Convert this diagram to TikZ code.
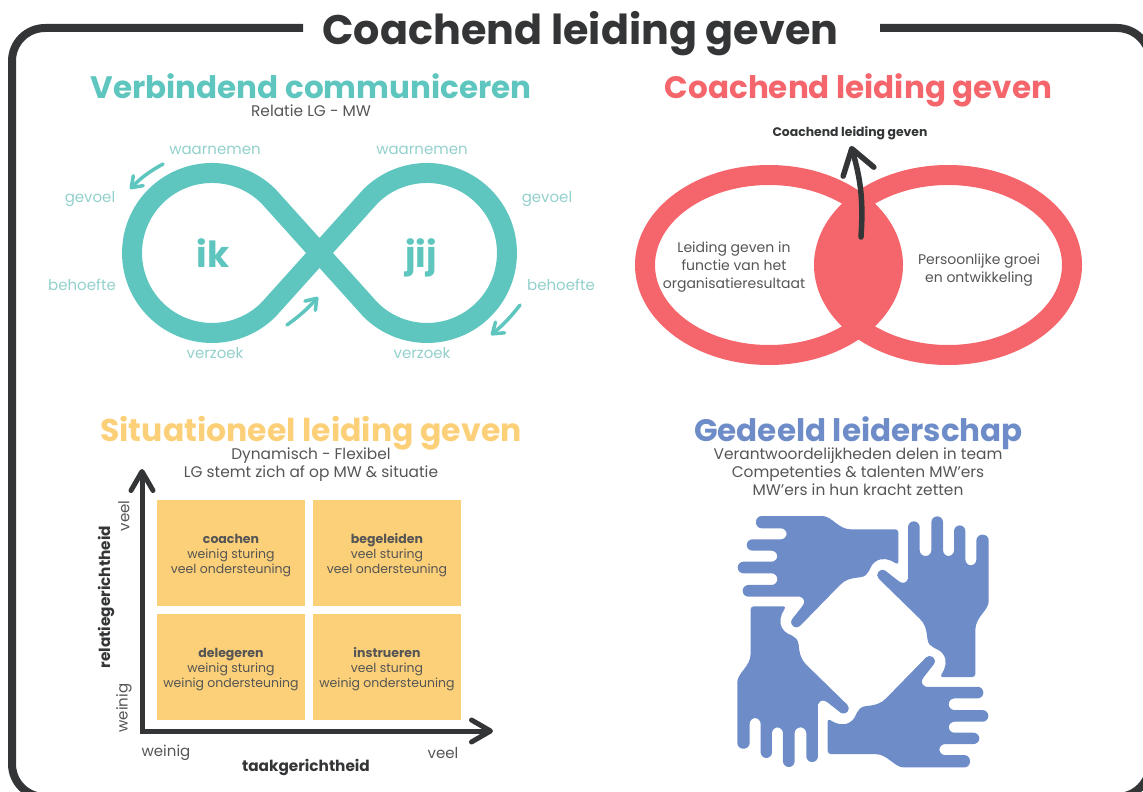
\documentclass[tikz,border=0pt]{standalone}
\usepackage{fontspec}
\setmainfont{Poppins}
\usetikzlibrary{arrows.meta}
\definecolor{frameDark}{HTML}{333536}
\definecolor{tealInk}{HTML}{5EC6BE}
\definecolor{tealLabel}{HTML}{93D0CC}
\definecolor{coralInk}{HTML}{F5666C}
\definecolor{sandInk}{HTML}{FCD078}
\definecolor{blueInk}{HTML}{6D8CC8}
\definecolor{bodyGrey}{HTML}{555555}
\newcommand{\px}[1]{\fontsize{#1}{18pt}\selectfont}
\newcommand{\qhead}[1]{\rule{0pt}{14pt}\textbf{#1}}
\newcommand{\handpath}{(300,48) [rounded corners=5.8pt] -- (350,48) .. controls (395,48) and (415,88) .. (470,88)
 [rounded corners=3pt] -- (595,88) -- (595,195) [sharp corners] .. controls (570,178) and (545,170) .. (525,186)
 .. controls (505,200) and (512,228) .. (480,232) .. controls (450,235) and (435,240) .. (420,255)
 -- (300,378) .. controls (288,390) and (266,376) .. (276,358) -- (306,320)
 .. controls (316,308) and (315,295) .. (300,290) [rounded corners=5.8pt] -- (128,290) -- (128,255) -- (232,255) -- (232,220)
 -- (113,220) -- (113,185) -- (232,185) -- (232,152) -- (140,152) -- (140,118)
 -- (260,118) -- (260,85) -- (168,85) -- (168,48) -- cycle}
\tikzset{
 heading/.style={font=\bfseries\px{#1},anchor=base,inner sep=0pt},
 sublabel/.style={font=\px{15.4},text=bodyGrey,align=center,inner sep=0pt},
 looplabel/.style={font=\px{15},text=tealLabel,inner sep=0pt,anchor=base},
 lobelabel/.style={font=\bfseries\px{36},text=tealInk,inner sep=0pt,anchor=base},
 venntext/.style={font=\px{14},text=bodyGrey,align=center,inner sep=0pt},
 quadrant/.style={fill=sandInk,minimum width=148pt,minimum height=106pt,inner sep=0pt,align=center,font=\fontsize{12.5}{15pt}\selectfont,text=bodyGrey},
 axisname/.style={font=\bfseries\px{15.3},text=frameDark,inner sep=0pt},
 axisend/.style={font=\px{15},text=bodyGrey,inner sep=0pt},
 loopflow/.style={tealInk,line width=3.5pt,line cap=round,-{Straight Barb[round,length=10pt,width=14pt]}},
 handshape/.style={fill=blueInk,rotate around={#1:(863,641.7)},shift={(700,500)},x=0.3333pt,y=-0.3333pt},
}
\begin{document}
\begin{tikzpicture}[x=1pt,y=-1pt]
\useasboundingbox (0,0) rectangle (1143,792);
% frame
\coordinate (F_0) at (303,28);
\coordinate (F_1) at (880,28);
\draw[frameDark,line width=8pt,rounded corners=33pt] (F_0) -- (12,28) -- (12,797) -- (1150,797) -- (1150,28) -- (F_1);
\node[heading=41.3,text=frameDark] (title) at (580.5,44.5) {Coachend leiding geven};
% top left
\node[heading=31,text=tealInk] (verbinden) at (311,98) {Verbindend communiceren};
\node[sublabel] (relatie) at (311,111) {Relatie LG - MW};
\draw[tealInk,line width=20pt] (268.6,196.4) arc[start angle=-45,end angle=-315,radius=80] -- (370.4,196.4) arc[start angle=225,end angle=495,radius=80] -- cycle;
\node[lobelabel] (ik) at (213,267) {ik};
\node[lobelabel] (jij) at (421,267) {jij};
\node[looplabel] (waar_1) at (215,154) {waarnemen};
\node[looplabel] (waar_2) at (422,154) {waarnemen};
\node[looplabel] (gev_1) at (90,202) {gevoel};
\node[looplabel] (gev_2) at (547,202) {gevoel};
\node[looplabel] (beh_1) at (82,290) {behoefte};
\node[looplabel] (beh_2) at (561,290) {behoefte};
\node[looplabel] (ver_1) at (215,358) {verzoek};
\node[looplabel] (ver_2) at (422,358) {verzoek};
\coordinate (A_0) at (163,164);
\coordinate (A_1) at (130,189);
\coordinate (A_2) at (287,325);
\coordinate (A_3) at (318,297);
\coordinate (A_4) at (520,305);
\coordinate (A_5) at (491,335);
\draw[loopflow] (A_0) to[bend right=8] (A_1);
\draw[loopflow] (A_2) to[bend right=6] (A_3);
\draw[loopflow] (A_4) to[bend left=6] (A_5);
% top right
\node[heading=31,text=coralInk] (coach) at (858.5,98) {Coachend leiding geven};
\draw[coralInk,line width=20pt] (769,265) ellipse[x radius=124,y radius=90];
\draw[coralInk,line width=20pt] (948,265) ellipse[x radius=124,y radius=90];
\begin{scope}
\clip (769,265) ellipse[x radius=124,y radius=90];
\fill[coralInk] (948,265) ellipse[x radius=124,y radius=90];
\end{scope}
\node[font=\bfseries\px{12.4},text=frameDark,inner sep=0pt] (doel) at (850,133) {Coachend leiding geven};
\coordinate (C_0) at (861,237);
\coordinate (C_1) at (851,146);
\draw[frameDark,line width=5.5pt,line cap=round,-{Straight Barb[round,length=24pt,width=32pt]}] (C_0) to[bend right=10] (C_1);
\node[venntext] (leiding) at (734,267) {Leiding geven in\\functie van het\\organisatieresultaat};
\node[venntext] (groei) at (979,270) {Persoonlijke groei\\en ontwikkeling};
% bottom left
\node[heading=31.5,text=sandInk] (situatie) at (311,441) {Situationeel leiding geven};
\node[sublabel,anchor=north] (afstem) at (311,448) {Dynamisch - Flexibel\\LG stemt zich af op MW \& situatie};
\node[quadrant] (Q_0_0) at (231,553) {\qhead{coachen}\\weinig sturing\\veel ondersteuning};
\node[quadrant] (Q_1_0) at (387,553) {\qhead{begeleiden}\\veel sturing\\veel ondersteuning};
\node[quadrant] (Q_0_1) at (231,667) {\qhead{delegeren}\\weinig sturing\\weinig ondersteuning};
\node[quadrant] (Q_1_1) at (387,667) {\qhead{instrueren}\\veel sturing\\weinig ondersteuning};
\coordinate (O_y) at (142,469);
\coordinate (O_0) at (142,731);
\coordinate (O_x) at (493,731);
\draw[frameDark,line width=5pt,{Straight Barb[round,length=19pt,width=22pt]}-{Straight Barb[round,length=19pt,width=22pt]}] (O_y) -- (O_0) -- (O_x);
\node[axisname,rotate=90] (relatie_as) at (106,597) {relatiegerichtheid};
\node[axisend,rotate=90] (y_veel) at (124,516) {veel};
\node[axisend,rotate=90] (y_weinig) at (124,708) {weinig};
\node[axisend] (x_weinig) at (166,753) {weinig};
\node[axisend] (x_veel) at (443,753) {veel};
\node[axisname] (taak_as) at (306,767) {taakgerichtheid};
% bottom right
\node[heading=31,text=blueInk] (gedeeld) at (858.5,441) {Gedeeld leiderschap};
\node[sublabel,anchor=north] (delen) at (858,448) {Verantwoordelijkheden delen in team\\Competenties \& talenten MW’ers\\MW’ers in hun kracht zetten};
\fill[handshape=0] \handpath;
\fill[handshape=90] \handpath;
\fill[handshape=180] \handpath;
\fill[handshape=270] \handpath;
\end{tikzpicture}
\end{document}
